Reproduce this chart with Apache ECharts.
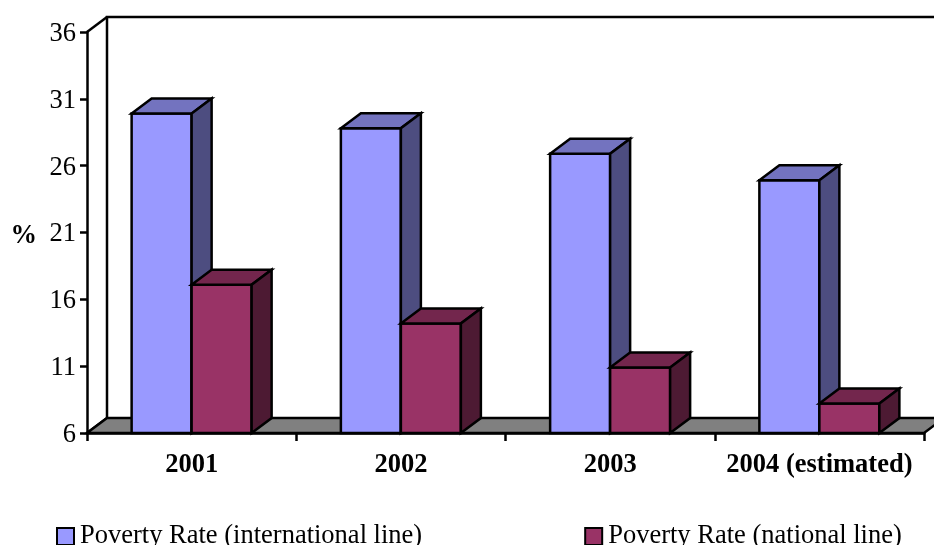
<!DOCTYPE html>
<html><head><meta charset="utf-8">
<style>html,body{margin:0;padding:0;background:#fff;overflow:hidden}#c{width:934px;height:545px}</style>
<script src="https://cdn.jsdelivr.net/npm/echarts@6/dist/echarts.min.js"></script>
</head><body><div id="c"></div>
<script>
const categories = ['2001','2002','2003','2004 (estimated)'];
const intlValues = [29.9, 28.8, 26.9, 24.9];
const natlValues = [17.1, 14.2, 10.9, 8.2];
const seriesNames = ['Poverty Rate (international line)','Poverty Rate (national line)'];

const FONT = '"Liberation Serif","Times New Roman",serif';
const DX = 20, DY = -15, BAR_W = 60, LW = 2.5;
const lineStyle = {stroke:'#000', lineWidth:LW, lineJoin:'miter'};
function poly(points, fill){
  return {type:'polygon', shape:{points}, style:Object.assign({fill}, lineStyle)};
}
function barRenderer(side, front, top, right){
  return function(params, api){
    const base = api.coord([api.value(0), 6]);
    const head = api.coord([api.value(0), api.value(1)]);
    const x0 = base[0] + (side < 0 ? -BAR_W : 0), x1 = x0 + BAR_W;
    const yb = base[1], yt = head[1];
    return {type:'group', children:[
      poly([[x0,yb],[x1,yb],[x1,yt],[x0,yt]], front),
      poly([[x0,yt],[x1,yt],[x1+DX,yt+DY],[x0+DX,yt+DY]], top),
      poly([[x1,yb],[x1+DX,yb+DY],[x1+DX,yt+DY],[x1,yt]], right)
    ]};
  };
}
function wallRenderer(params, api){
  const bw = api.size([1,0])[0];
  const b = api.coord([0,6]), t = api.coord([0,36]);
  const xl = b[0]-bw/2, xr = xl + bw*categories.length;
  return {type:'group', children:[
    {type:'polyline', shape:{points:[[xl,b[1]],[xl+DX,b[1]+DY],[xl+DX,t[1]+DY],[xr+DX,t[1]+DY]]}, style:{fill:'none',stroke:'#000',lineWidth:LW}},
    {type:'line', shape:{x1:xl,y1:t[1],x2:xl+DX,y2:t[1]+DY}, style:{stroke:'#000',lineWidth:LW}},
    poly([[xl,b[1]],[xl+DX,b[1]+DY],[xr+DX,b[1]+DY],[xr,b[1]]], '#808080')
  ]};
}
const chart = echarts.init(document.getElementById('c'), null, {renderer:'canvas'});
chart.setOption({
  animation:false,
  backgroundColor:'#fff',
  textStyle:{fontFamily:FONT,color:'#000'},
  grid:{left:87,right:10,top:32,bottom:112,containLabel:false,outerBoundsMode:'none'},
  legend:{
    data:seriesNames,left:56,top:523,padding:0,itemWidth:17,itemHeight:17,itemGap:162,
    icon:'rect',
    textStyle:{fontFamily:FONT,fontSize:26.5,color:'#000',padding:[0,0,0,1]}
  },
  xAxis:{
    type:'category',data:categories,boundaryGap:true,
    axisLine:{lineStyle:{color:'#000',width:LW}},
    axisTick:{show:true,length:8,alignWithLabel:false,lineStyle:{color:'#000',width:LW}},
    axisLabel:{fontFamily:FONT,fontSize:26.5,fontWeight:'bold',color:'#000',margin:19,interval:0}
  },
  yAxis:{
    type:'value',min:6,max:36,interval:5,
    name:'%',nameLocation:'middle',nameRotate:0,nameGap:50,
    nameTextStyle:{fontFamily:FONT,fontSize:26.5,fontWeight:'bold',color:'#000',verticalAlign:'top',lineHeight:8},
    axisLine:{show:true,lineStyle:{color:'#000',width:LW}},
    axisTick:{show:true,length:7,lineStyle:{color:'#000',width:LW}},
    axisLabel:{fontFamily:FONT,fontSize:26.5,color:'#000',margin:11,verticalAlign:'top',lineHeight:4},
    splitLine:{show:false}
  },
  series:[
    {type:'custom',name:'walls',z:1,silent:true,clip:false,renderItem:wallRenderer,data:[[0,6]],encode:{x:0,y:1}},
    {type:'custom',name:seriesNames[0],z:2,clip:false,
     renderItem:barRenderer(-1,'#9999FF','#7373BF','#4D4D80'),
     itemStyle:{color:'#9999FF',borderColor:'#000',borderWidth:LW},
     data:intlValues.map((v,i)=>[i,v]),encode:{x:0,y:1}},
    {type:'custom',name:seriesNames[1],z:3,clip:false,
     renderItem:barRenderer(1,'#993366','#73264D','#4D1A33'),
     itemStyle:{color:'#993366',borderColor:'#000',borderWidth:LW},
     data:natlValues.map((v,i)=>[i,v]),encode:{x:0,y:1}}
  ]
});
</script></body></html>
